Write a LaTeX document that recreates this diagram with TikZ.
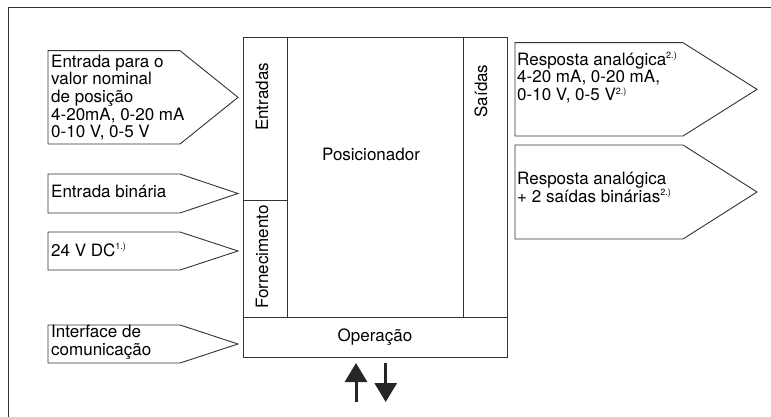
\documentclass[tikz,border=0pt]{standalone}
\usepackage{fontspec}
\setmainfont{TeX Gyre Heros}
\usetikzlibrary{arrows.meta}
% box with a pointed end: left x, start of point, tip x, top y, bottom y
\newcommand{\sigbox}[5]{
\draw[frame] (#1,#4) -- (#2,#4) -- (#3,{(#4+#5)/2}) -- (#2,#5) -- (#1,#5) -- cycle;
}
\newcommand{\hochz}[1]{\textsuperscript{\fontsize{9}{9}\selectfont #1}}

\begin{document}
\begin{tikzpicture}[x=1pt, y=-1pt,
	font=\fontsize{17}{17.7}\selectfont,
	frame/.style={draw=black!80, line width=0.9pt},
	lbl/.style={inner sep=0pt, align=left, anchor=base west},
	col/.style={inner sep=0pt, rotate=90},
	pfeil/.style={black!85, line width=3pt, -{Triangle[width=22pt,length=19pt]}}]
			\useasboundingbox (0,0) rectangle (771,417);
			\draw[frame] (8,417) -- (8,7) -- (771,7);
			
			% inputs (node anchored at the last line)
			\sigbox{48}{180}{238}{50.7}{144}
			\sigbox{48}{180}{238}{174}{213}
			\sigbox{48}{180}{238}{232}{270}
			\sigbox{48}{180}{238}{325}{363}
			\node[lbl] (sollwert) at (51,138) {Entrada para o\\valor nominal\\de posição\\4-20mA, 0-20 mA\\0-10 V, 0-5 V};
			\node[lbl] (binaer) at (51,197) {Entrada binária};
			\node[lbl] (versorg) at (51,256) {24 V DC\hochz{1.)}};
			\node[lbl] (komm) at (51,355.5) {Interface de\\comunicação};
			
			% outputs
			\sigbox{515}{683}{757}{42.7}{136}
			\sigbox{515}{683}{757}{145}{239}
			\node[lbl] (analog) at (517,100.5) {Resposta analógica\hochz{2.)}\\4-20 mA, 0-20 mA,\\0-10 V, 0-5 V\hochz{2.)}};
			\node[lbl] (binaus) at (517,202) {Resposta analógica\\+ 2 saídas binárias\hochz{2.)}};
			
			% positioner
			\draw[frame] (243.5,37.5) rectangle (507,357);
			\draw[frame] (287,37.5) -- (287,317);
			\draw[frame] (463,37.5) -- (463,317);
			\draw[frame] (243.5,317) -- (507,317);
			\draw[frame] (243.5,200) -- (287,200);
			\node[col] (eing) at (262,97) {Entradas};
			\node[col] (forn) at (262,257) {Fornecimento};
			\node[col] (ausg) at (481,91) {Saídas};
			\node[inner sep=0pt] (pos) at (371,154) {Posicionador};
			\node[inner sep=0pt] (bed) at (375,337) {Operação};
			
			\coordinate (up0) at (356,402);
			\coordinate (up1) at (356,363);
			\coordinate (dn0) at (385.7,363);
			\coordinate (dn1) at (385.7,402);
			\draw[pfeil] (up0) -- (up1);
			\draw[pfeil] (dn0) -- (dn1);
			\end{tikzpicture}
\end{document}
